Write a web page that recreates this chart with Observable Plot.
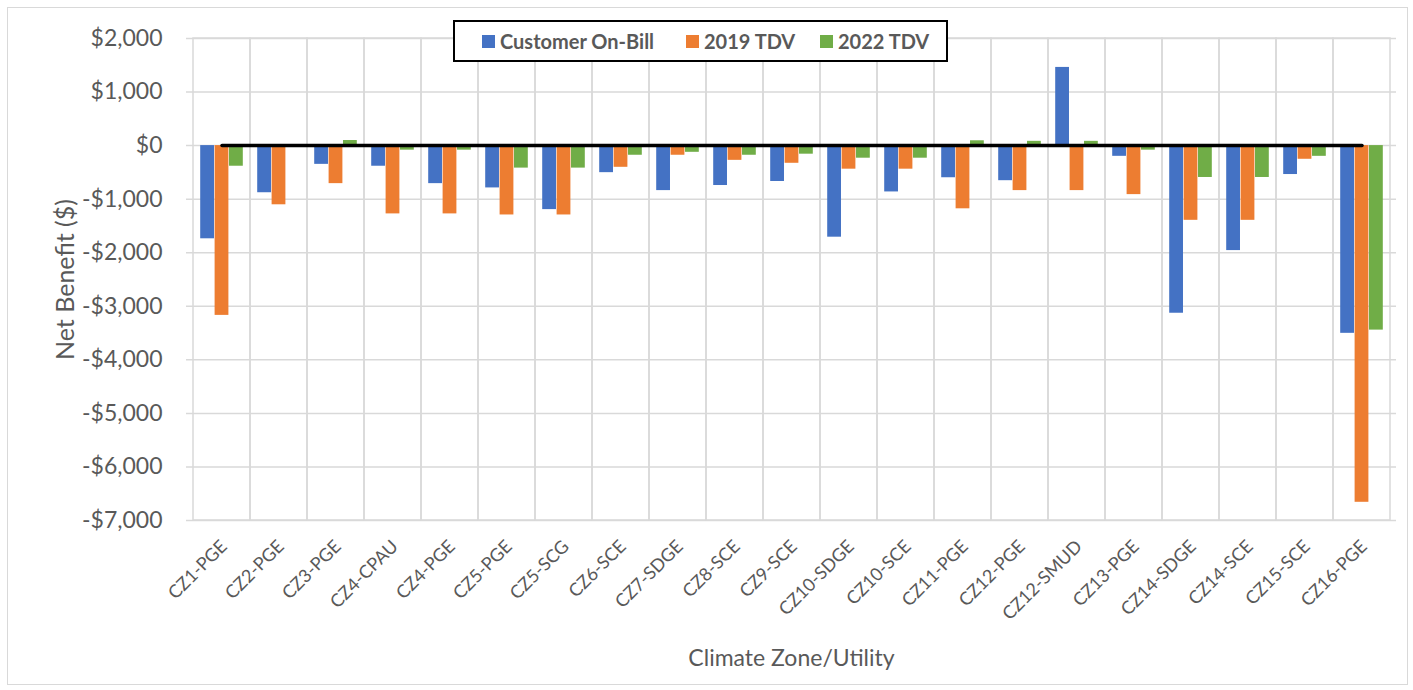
<!DOCTYPE html>
<html>
<head>
<meta charset="utf-8">
<script src="https://cdn.jsdelivr.net/npm/d3@7"></script>
<script src="https://cdn.jsdelivr.net/npm/@observablehq/plot@0.6"></script>
<style>
  html, body { margin: 0; padding: 0; background: #fff; }
  #wrap { position: relative; width: 1413px; height: 690px; font-family: Lato, "Open Sans", sans-serif; }
  #border { position: absolute; left: 7px; top: 7px; width: 1399px; height: 676px; border: 1.5px solid #d9d9d9; pointer-events: none; }
  #legend { position: absolute; left: 453px; top: 20px; width: 491px; height: 38px; border: 2px solid #000; background: #fff; }
  .li { position: absolute; top: 0; height: 38px; display: flex; align-items: center; font-size: 20px; font-weight: 700; color: #595959; white-space: nowrap; }
  .sw { width: 13px; height: 13px; margin-right: 5px; display: inline-block; }
</style>
</head>
<body>
<div id="wrap">
  <div id="chart"></div>
  <div id="border"></div>
  <div id="legend"></div>
</div>
<script>
const categories = ["CZ1-PGE","CZ2-PGE","CZ3-PGE","CZ4-CPAU","CZ4-PGE","CZ5-PGE","CZ5-SCG","CZ6-SCE","CZ7-SDGE","CZ8-SCE","CZ9-SCE","CZ10-SDGE","CZ10-SCE","CZ11-PGE","CZ12-PGE","CZ12-SMUD","CZ13-PGE","CZ14-SDGE","CZ14-SCE","CZ15-SCE","CZ16-PGE"];
const seriesNames = ["Customer On-Bill", "2019 TDV", "2022 TDV"];
const seriesColors = ["#4472C4", "#ED7D31", "#70AD47"];
const customerOnBill = [-1740,-880,-350,-385,-710,-790,-1195,-505,-840,-745,-670,-1710,-865,-600,-655,1460,-200,-3130,-1960,-540,-3505];
const tdv2019 = [-3170,-1105,-710,-1275,-1275,-1295,-1295,-405,-180,-275,-330,-440,-440,-1180,-840,-840,-915,-1395,-1395,-255,-6660];
const tdv2022 = [-385,0,95,-85,-85,-420,-420,-180,-125,-180,-160,-235,-235,90,80,80,-85,-595,-595,-200,-3445];
const yTicks = [2000,1000,0,-1000,-2000,-3000,-4000,-5000,-6000,-7000];

const W = 1413, H = 690, ML = 186, MR = 17, MT = 38, MB = 170;
const bw = (W - ML - MR) / categories.length;
const barW = bw * 0.25, pad = bw * 0.125;

const allSeries = [customerOnBill, tdv2019, tdv2022];
const rows = [];
allSeries.forEach((vals, s) => vals.forEach((v, i) => rows.push({cat: categories[i], series: seriesNames[s], si: s, value: v})));

const fmt = d => (d < 0 ? "-" : "") + "$" + d3.format(",")(Math.abs(d));
const textColor = "#595959";

const barMarks = seriesNames.map((name, s) => Plot.barY(rows.filter(r => r.si === s), {
  x: "cat", y: "value", fill: seriesColors[s],
  insetLeft: pad + s * barW, insetRight: bw - pad - (s + 1) * barW
}));

const chart = Plot.plot({
  width: W, height: H,
  marginLeft: ML, marginRight: MR, marginTop: MT, marginBottom: MB,
  style: {fontFamily: "Lato, 'Open Sans', sans-serif", color: textColor, background: "transparent"},
  x: {type: "band", domain: categories, padding: 0, label: null},
  y: {domain: [-7000, 2000], label: null},
  marks: [
    Plot.ruleY(yTicks, {stroke: "#d9d9d9", strokeWidth: 1.5}),
    Plot.barY(categories, {x: d => d, y1: -7000, y2: 2000, fill: "none", stroke: "#d9d9d9", strokeWidth: 1.5}),
    ...barMarks,
    Plot.lineY(categories, {x: d => d, y: () => 0, stroke: "#000", strokeWidth: 3.5}),
    Plot.axisY({ticks: yTicks, tickFormat: fmt, tickSize: 0, tickPadding: 24, fontSize: 23, fill: textColor, label: null}),
    Plot.axisX({tickSize: 0, tickPadding: 23, tickRotate: -45, fontSize: 18, dx: 2, fill: textColor, label: null}),
    Plot.text(["Net Benefit ($)"], {frameAnchor: "left", dx: -121, rotate: -90, textAnchor: "middle", lineAnchor: "middle", fontSize: 25, fill: textColor}),
    Plot.text(["Climate Zone/Utility"], {frameAnchor: "bottom", dy: 138, lineAnchor: "middle", fontSize: 23, fill: textColor})
  ]
});
document.getElementById("chart").appendChild(chart);

const legend = document.getElementById("legend");
const legendX = [27, 231, 365];
seriesNames.forEach((name, s) => {
  const item = document.createElement("div");
  item.className = "li";
  item.style.left = legendX[s] + "px";
  item.innerHTML = `<span class="sw" style="background:${seriesColors[s]}"></span>${name}`;
  legend.appendChild(item);
});
</script>
</body>
</html>
